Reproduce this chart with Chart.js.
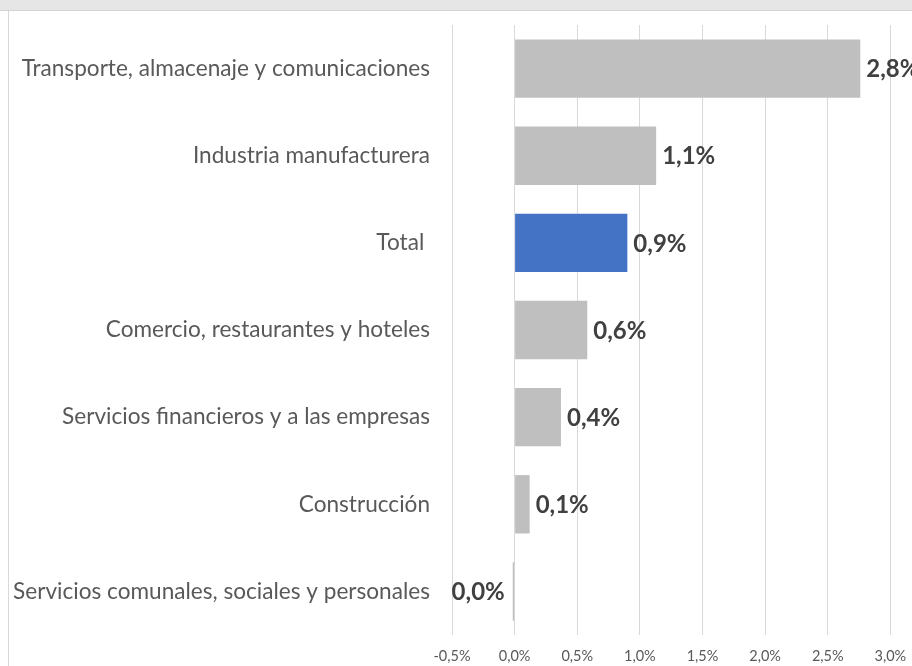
<!DOCTYPE html>
<html>
<head>
<meta charset="utf-8">
<script src="https://cdn.jsdelivr.net/npm/chart.js@4.4.1/dist/chart.umd.min.js"></script>
<style>
  html, body { margin: 0; padding: 0; width: 912px; height: 666px; overflow: hidden; background: #ffffff; }
  #wrap { position: absolute; left: 0; top: 0; width: 1000px; height: 666px; }
  #band { position: absolute; left: 0; top: 0; width: 912px; height: 10px; background: #e6e6e6; border-bottom: 1px solid #d4d4d4; z-index: 2; }
  #frame { position: absolute; left: 8px; top: 11px; width: 0; height: 655px; border-left: 1px solid #d9d9d9; z-index: 2; }
</style>
</head>
<body>
<div id="band"></div>
<div id="frame"></div>
<div id="wrap"><canvas id="c"></canvas></div>
<script>
const categories = [
  "Transporte, almacenaje y comunicaciones",
  "Industria manufacturera",
  "Total ",
  "Comercio, restaurantes y hoteles",
  "Servicios financieros y a las empresas",
  "Construcción",
  "Servicios comunales, sociales y personales"
];
const values = [2.76, 1.13, 0.90, 0.58, 0.37, 0.12, -0.015];
const barColors = ["#bfbfbf", "#bfbfbf", "#4472c4", "#bfbfbf", "#bfbfbf", "#bfbfbf", "#bfbfbf"];
const xMin = -0.5, xMax = 3.5, xStep = 0.5;

function fmtPct(v) {
  let s = Math.abs(v).toFixed(1);
  if (v < 0 && parseFloat(s) !== 0) s = "-" + s;
  return s.replace(".", ",") + "%";
}

const labelPlugin = {
  id: "barLabels",
  afterDatasetsDraw(chart) {
    const ctx = chart.ctx;
    const meta = chart.getDatasetMeta(0);
    ctx.save();
    ctx.font = "bold 24px Lato";
    ctx.fillStyle = "#404040";
    ctx.textBaseline = "middle";
    meta.data.forEach((bar, i) => {
      const v = values[i];
      const txt = fmtPct(v);
      if (v >= 0) {
        ctx.textAlign = "left";
        ctx.fillText(txt, bar.x + 6, bar.y + 1);
      } else {
        ctx.textAlign = "right";
        ctx.fillText(txt, bar.x - 8, bar.y + 1);
      }
    });
    ctx.restore();
  }
};

new Chart(document.getElementById("c"), {
  type: "bar",
  data: {
    labels: categories,
    datasets: [{
      data: values,
      backgroundColor: barColors,
      borderWidth: 0,
      categoryPercentage: 1.0,
      barPercentage: 0.67
    }]
  },
  options: {
    indexAxis: "y",
    responsive: true,
    maintainAspectRatio: false,
    animation: false,
    layout: { padding: { top: 25, right: 47, bottom: 0, left: 0 } },
    plugins: { legend: { display: false }, tooltip: { enabled: false } },
    scales: {
      x: {
        min: xMin, max: xMax,
        ticks: {
          stepSize: xStep,
          color: "#595959",
          font: { family: "Lato", size: 14.5 },
          padding: 13,
          callback: (v) => fmtPct(v)
        },
        grid: { color: "#d9d9d9", lineWidth: 1, drawTicks: false },
        border: { display: false },
        afterFit: (s) => { s.height = 31; s.paddingLeft = 0; s.paddingRight = 0; }
      },
      y: {
        ticks: {
          color: "#595959",
          font: { family: "Lato", size: 22.6 },
          padding: 22
        },
        grid: { display: false, drawTicks: false },
        border: { display: false },
        afterFit: (s) => { s.width = 452; s.paddingTop = 0; s.paddingBottom = 0; }
      }
    }
  },
  plugins: [labelPlugin]
});
</script>
</body>
</html>
